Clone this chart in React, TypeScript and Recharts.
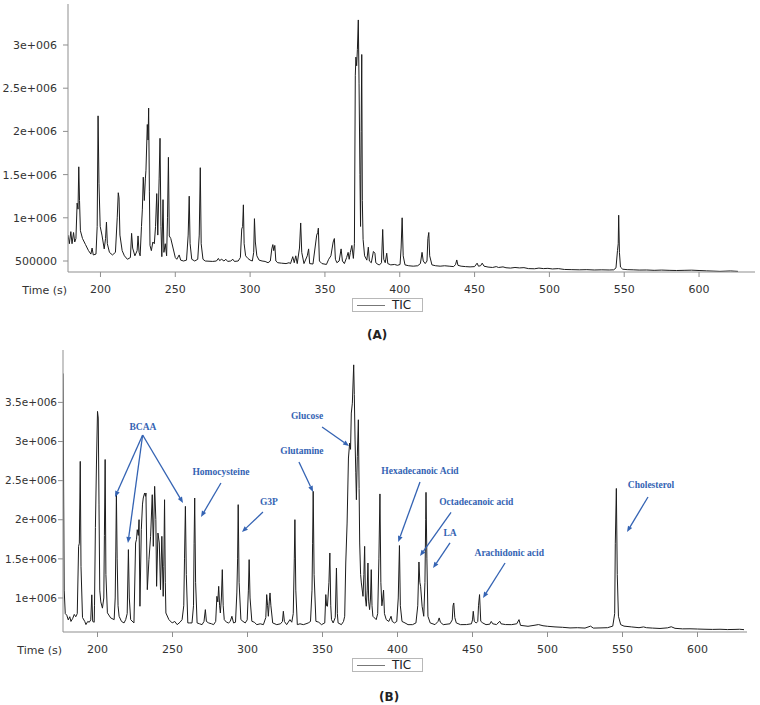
import React from 'react';
import {
  LineChart,
  Line,
  XAxis,
  YAxis,
  Legend,
  ReferenceLine,
  ReferenceDot,
  Label,
} from 'recharts';

// Chromatogram (A): retention time (s) and TIC in thousands of counts
const timeA = [
  178.3, 179.2, 180.2, 181.0, 182.0, 182.8, 183.6, 184.4, 185.0, 185.5, 186.0, 186.6, 188, 190, 192, 193.6, 194.4, 195.2,
  197.0, 197.8, 198.4, 199.0, 199.8, 201, 202.5, 203.4, 204.0, 204.6, 206, 208, 210, 211.2, 211.9, 212.4, 213, 214.5,
  216, 218, 220, 220.8, 221.5, 223, 224.5, 225.1, 225.8, 226.5, 227.4, 228.0, 228.6, 229.3, 230.0, 230.4, 231.3, 231.8,
  232.2, 232.7, 233.1, 234, 235, 236, 236.8, 237.6, 238.3, 239.2, 239.8, 240.4, 241.0, 241.8, 242.4, 243.3, 244.2, 244.8,
  245.4, 246.0, 247.0, 248.5, 250.0, 251.0, 252.6, 253.6, 255.5, 257.5, 258.6, 259.3, 259.9, 261, 263, 265, 266.0, 266.7,
  267.3, 268.5, 270, 275, 277.5, 278.8, 279.6, 281, 282.5, 283.8, 285, 287, 288.5, 289.5, 292, 293.5, 294.4, 295.0, 295.5,
  296.0, 297, 298.5, 300, 301.5, 302.4, 302.9, 303.5, 304.5, 306, 308, 310, 312, 313.5, 314.5, 315.2, 315.8, 316.5, 317.2,
  318.5, 321, 324, 326, 327, 328.5, 329.5, 330.5, 331.5, 333.0, 333.8, 334.5, 336, 338.2, 339.1, 339.8, 342, 344.5, 345.2,
  345.6, 346.3, 348, 351, 352.5, 354, 355.5, 356.3, 357.0, 358, 359.5, 360.8, 361.7, 363, 364.5, 365.5, 366.2, 367, 368,
  369, 369.7, 370.3, 370.7, 371.2, 371.7, 372.3, 372.8, 373.4, 373.8, 374.2, 374.6, 375.0, 375.5, 376.5, 378, 379.0, 379.7,
  381, 382.4, 383.4, 384.0, 385.5, 386.5, 387.8, 388.6, 389.3, 390.3, 391.3, 392.0, 394, 396.5, 398.5, 400.2, 400.9, 401.6,
  402.3, 403.5, 406, 409, 412, 413.8, 414.9, 415.7, 417, 418.2, 418.8, 419.4, 420.0, 421.5, 424, 427, 430, 433, 436, 437.3,
  438.1, 438.9, 441, 444, 447, 450, 451.7, 452.6, 454, 455.1, 456.3, 459, 462, 464.5, 466, 469, 471, 474, 477, 480, 483,
  486, 490, 493, 496, 499, 502, 506, 510, 515, 520, 525, 530, 535, 540, 543, 544.5, 545.5, 546.0, 546.3, 546.8, 547.5, 549,
  552, 556, 560, 565, 570, 575, 580, 585, 590, 595, 600, 605, 610, 614, 618, 621, 624, 626,
];
const ticA = [
  800, 700, 840, 700, 830, 720, 760, 1170, 1100, 1590, 1200, 850, 760, 690, 620, 580, 650, 570,
  580, 900, 2180, 1400, 900, 800, 640, 760, 950, 700, 600, 570, 600, 1000, 1290, 1230, 800, 620,
  560, 520, 540, 820, 650, 560, 620, 790, 600, 560, 900, 1100, 1470, 1200, 1450, 1550, 2080, 1900,
  2270, 1300, 680, 620, 720, 700, 900, 1280, 800, 1450, 1920, 900, 550, 1210, 600, 700, 560, 1000,
  1700, 790, 760, 650, 540, 520, 570, 510, 500, 510, 800, 1250, 700, 520, 500, 520, 800, 1580,
  700, 520, 500, 495, 500, 530, 505, 520, 500, 520, 495, 500, 520, 495, 500, 540, 870, 900, 1150,
  700, 560, 530, 510, 500, 600, 990, 720, 560, 510, 500, 495, 480, 500, 640, 690, 620, 680, 500,
  480, 475, 470, 480, 470, 550, 480, 560, 470, 650, 940, 600, 470, 560, 640, 470, 465, 800, 830,
  880, 500, 470, 460, 520, 560, 720, 760, 520, 480, 500, 640, 500, 470, 540, 600, 520, 600, 680,
  530, 700, 2650, 2860, 2760, 2950, 3290, 2550, 1500, 900, 2000, 2890, 1200, 750, 560, 510, 660, 500,
  480, 610, 590, 480, 460, 455, 480, 865, 520, 480, 590, 470, 455, 460, 450, 460, 650, 1000,
  560, 455, 445, 440, 445, 470, 600, 500, 470, 500, 760, 830, 560, 455, 445, 440, 445, 440, 435, 460,
  512, 450, 440, 435, 432, 435, 475, 440, 445, 475, 440, 430, 425, 435, 425, 432, 422, 418, 425, 420, 423,
  412, 410, 418, 412, 415, 408, 412, 402, 400, 398, 400, 396, 398, 396, 398, 420, 620, 700, 1030, 600, 430, 405,
  400, 398, 395, 396, 392, 395, 392, 390, 392, 394, 390, 386, 383, 380, 383, 385, 382, 380,
];

// Chromatogram (B)
const timeB = [
  177.0, 177.8, 178.5, 179.5, 180.5, 181.5, 182.3, 183.5, 184.5, 185.5, 186.5, 187.4, 187.9, 188.5, 189.0, 190, 191.5,
  192.3, 193.5, 194.5, 195.5, 196.2, 196.8, 197.8, 198.0, 198.6, 199.3, 200.0, 200.5, 201.0, 201.5, 202.2, 203.3, 204.2,
  204.6, 205.1, 205.6, 206.6, 208.8, 211.1, 211.8, 212.2, 212.6, 213.1, 213.7, 214.4, 216, 217.7, 218.8, 219.8, 220.6,
  221.2, 222.1, 224.3, 225.4, 226.0, 226.5, 227.2, 227.7, 228.3, 229.2, 230.0, 230.5, 231.4, 232.0, 232.3, 233.2, 234.3,
  235.4, 236.5, 237.2, 238.1, 238.9, 239.4, 240.3, 241.2, 242.0, 242.9, 243.8, 244.2, 244.7, 245.2, 245.6, 247.6, 249.8,
  251.5, 253.1, 255, 256.4, 257.5, 258.0, 258.6, 259.2, 260.2, 261.5, 263.0, 264.0, 264.4, 264.8, 265.4, 266.4, 268,
  269.7, 271.0, 271.9, 272.6, 274.1, 276, 277.4, 278.8, 279.6, 280.2, 280.8, 281.4, 281.9, 282.6, 283.2, 283.8, 284.5,
  286, 287.4, 288.5, 289.6, 290.7, 292, 292.9, 293.4, 293.8, 294.4, 295.6, 297, 298.5, 299.8, 300.6, 301.1, 301.7, 302.9,
  304.5, 306.2, 308.5, 310.6, 312.2, 312.8, 313.4, 313.9, 314.5, 315.0, 315.6, 316.8, 319.5, 322, 323.3, 323.9, 324.6,
  326.1, 328.3, 329.5, 330.5, 331.2, 331.6, 332.2, 333.2, 335, 337.2, 339, 340.5, 342, 343.0, 343.4, 343.8, 344.4, 345.6,
  347.5, 349.3, 351.5, 352.2, 352.7, 353.3, 354.3, 354.9, 355.5, 356.0, 357.1, 358.5, 359.3, 359.9, 360.4, 362.6, 364.0,
  364.8, 365.5, 366.4, 367.3, 368.1, 368.7, 369.2, 369.9, 370.8, 371.2, 371.7, 372.2, 372.6, 373.2, 373.9, 374.4, 374.8,
  375.4, 375.9, 377, 377.6, 378.1, 378.6, 379.2, 379.8, 380.3, 380.8, 381.4, 382.0, 382.5, 383.0, 383.6, 385.8, 386.8,
  387.6, 388.3, 388.9, 389.6, 390.2, 390.7, 391.3, 392.5, 394.2, 395.7, 396.5, 398, 399.5, 400.5, 401.3, 401.9, 403, 405,
  407, 410, 412.3, 413.5, 414.3, 414.9, 415.4, 416.4, 417.5, 418.3, 418.8, 419.0, 419.6, 420.3, 421.8, 425, 427.0, 427.8,
  428.6, 430.5, 433.0, 435.0, 436.5, 437.0, 437.5, 438.2, 439.2, 442, 446, 449.3, 450.0, 450.5, 451.2, 452.5, 453.5,
  454.0, 454.7, 455.5, 456.9, 459, 461.5, 462.5, 463.5, 466, 468.2, 469, 472, 476, 479.5, 481.0, 482.0, 487, 491, 494,
  497, 500, 505, 510, 515, 520, 525, 528.7, 530.5, 535, 540, 543.5, 544.8, 545.2, 545.9, 546.5, 547.3, 548.8, 551, 556,
  561, 564, 566, 570, 575, 580, 582.5, 585, 590, 595, 600, 605, 610, 615, 620, 625, 628, 631,
];
const ticB = [
  3870, 1100, 800, 780, 720, 760, 700, 740, 790, 760, 800, 1660, 1700, 2746, 1400, 750, 700,
  660, 700, 690, 720, 1040, 700, 690, 900, 1900, 2700, 3385, 3300, 2200, 1100, 950, 870, 1000,
  1800, 2770, 1300, 810, 745, 723, 1000, 1600, 2342, 1500, 900, 766, 700, 681, 723, 800, 1618,
  1000, 723, 681, 1703, 1750, 1873, 1800, 2001, 894, 1873, 2200, 2278, 2342, 2300, 2342, 1106, 1490,
  1788, 2320, 1660, 2427, 2001, 1149, 1830, 1703, 1106, 1788, 1021, 1400, 2256, 1200, 808, 723, 681,
  700, 659, 690, 723, 900, 1500, 2171, 1300, 681, 681, 681, 900, 1700, 2278, 1200, 681, 670,
  659, 700, 851, 700, 681, 670, 659, 700, 1021, 950, 1149, 900, 808, 1000, 1362, 900, 723,
  690, 681, 700, 766, 681, 690, 1064, 1500, 2193, 1200, 723, 700, 681, 720, 1100, 1490, 1000, 702,
  690, 659, 670, 659, 750, 1043, 900, 766, 950, 1064, 900, 681, 659, 670, 700, 830, 700,
  659, 723, 690, 800, 1500, 2001, 1100, 659, 670, 659, 670, 681, 700, 1100, 1700, 2363, 1300, 702,
  690, 659, 681, 1043, 900, 894, 1200, 1575, 900, 723, 681, 750, 1383, 800, 681, 659, 700,
  766, 1447, 1958, 2789, 2980, 2900, 3364, 3490, 3980, 3600, 3020, 2600, 2256, 2810, 3278, 2400, 1703,
  1300, 1192, 1021, 1300, 1660, 1000, 894, 1100, 1447, 950, 851, 1000, 1362, 900, 766, 723, 800,
  1500, 2330, 1200, 900, 1000, 1100, 800, 723, 700, 766, 700, 681, 700, 1000, 1670, 900, 700, 681,
  659, 659, 681, 900, 1460, 1200, 1150, 894, 766, 1200, 2000, 2350, 1500, 766, 681, 659, 700, 745,
  690, 659, 665, 670, 720, 900, 936, 750, 681, 659, 660, 670, 720, 830, 700, 680, 700,
  900, 1043, 702, 680, 659, 665, 700, 670, 660, 702, 670, 660, 659, 670, 723, 650, 638, 650, 660,
  645, 638, 630, 625, 617, 620, 615, 640, 615, 617, 620, 640, 800, 1700, 2400, 1300, 766, 659, 640, 630,
  620, 630, 620, 615, 610, 618, 632, 612, 605, 606, 603, 600, 598, 600, 596, 598, 600, 595,
];

const timeTicks = [200, 250, 300, 350, 400, 450, 500, 550, 600];
const ticTicksA = [500000, 1000000, 1500000, 2000000, 2500000, 3000000];
const ticTicksB = [1000000, 1500000, 2000000, 2500000, 3000000, 3500000];

// Compound labels in (B), anchored in data units (time, kcounts)
const compoundNames = [
  'BCAA', 'Homocysteine', 'G3P', 'Glutamine', 'Glucose',
  'Hexadecanoic Acid', 'Octadecanoic acid', 'LA', 'Arachidonic acid', 'Cholesterol',
];
const compoundTime = [230.3, 282.3, 314.3, 336.3, 339.7, 415, 452.5, 435, 474.5, 569];
const compoundTic = [3186, 2610, 2227, 2879, 3326, 2623, 2231, 1827, 1571, 2444];

// Arrows from label to peak
const arrowFromTime = [230.1, 230.1, 230.1, 282.3, 310.3, 334.3, 349.7, 415, 435.7, 435, 471.7, 567];
const arrowFromTic = [3083, 3083, 3083, 2470, 2099, 2738, 3186, 2483, 2095, 1703, 1447, 2291];
const arrowToTime = [211.7, 220.3, 257, 269, 296.3, 343.7, 367.7, 400.5, 415, 423.7, 457, 553];
const arrowToTic = [2291, 1703, 2214, 2035, 1843, 2355, 2943, 1716, 1537, 1383, 1000, 1843];

const dataA = timeA.map((t, i) => ({ t, tic: ticA[i] * 1000 }));
const dataB = timeB.map((t, i) => ({ t, tic: ticB[i] * 1000 }));

const AXIS = '#8f8f8f';
const TEXT = '#333';
const BLUE = '#3463b3';
const FONT = 'DejaVu Sans';

const fmtTic = (v: number) => (v < 1000000 ? String(v) : `${v / 1000000}e+006`);

function TicLegend() {
  return (
    <div
      style={{
        boxSizing: 'border-box',
        width: 71,
        height: 14,
        border: '1px solid #b8b8b8',
        background: '#fff',
        display: 'flex',
        alignItems: 'center',
      }}
    >
      <span style={{ display: 'inline-block', width: 28, borderTop: '1.5px solid #777', marginLeft: 4 }} />
      <span style={{ marginLeft: 7, fontSize: 12, fontFamily: FONT, color: '#222', lineHeight: '12px' }}>TIC</span>
    </div>
  );
}

function Arrow(props: any) {
  const { x1, y1, x2, y2 } = props;
  const dx = x2 - x1;
  const dy = y2 - y1;
  const len = Math.hypot(dx, dy) || 1;
  const ux = dx / len;
  const uy = dy / len;
  const head = 6;
  const w = 2.4;
  const bx = x2 - ux * head;
  const by = y2 - uy * head;
  return (
    <g>
      <line x1={x1} y1={y1} x2={bx} y2={by} stroke={BLUE} strokeWidth={1.3} />
      <polygon
        points={`${x2},${y2} ${bx - uy * w},${by + ux * w} ${bx + uy * w},${by - ux * w}`}
        fill={BLUE}
      />
    </g>
  );
}

const timeLabel = (props: any) => {
  const vb = props.viewBox;
  return (
    <text x={vb.x - 1} y={vb.y + 18} textAnchor="end" dominantBaseline="central" fontSize={11} fontFamily={FONT} fill={TEXT}>
      Time (s)
    </text>
  );
};

function Chromatogram({
  data,
  height,
  margin,
  xDomain,
  yDomain,
  yTicks,
  yWidth,
  yFontSize,
  yTickMargin,
  children,
}: {
  data: { t: number; tic: number }[];
  height: number;
  margin: { top: number; right: number; bottom: number; left: number };
  xDomain: [number, number];
  yDomain: [number, number];
  yTicks: number[];
  yWidth: number;
  yFontSize: number;
  yTickMargin: number;
  children?: React.ReactNode;
}) {
  const tickStyle = { fill: TEXT, fontSize: 11, fontFamily: FONT };
  return (
    <LineChart width={760} height={height} data={data} margin={margin}>
      <XAxis
        type="number"
        dataKey="t"
        domain={xDomain}
        ticks={timeTicks}
        allowDataOverflow
        height={26}
        tickSize={5}
        tickMargin={8}
        stroke={AXIS}
        tick={tickStyle}
      >
        <Label content={timeLabel} />
      </XAxis>
      <YAxis
        type="number"
        domain={yDomain}
        ticks={yTicks}
        allowDataOverflow
        width={yWidth}
        tickSize={5}
        tickMargin={yTickMargin}
        stroke={AXIS}
        tick={{ ...tickStyle, fontSize: yFontSize }}
        tickFormatter={fmtTic}
      />
      <Legend
        verticalAlign="bottom"
        content={<TicLegend />}
        wrapperStyle={{ left: 352, width: 71, bottom: 0 }}
      />
      <Line
        type="linear"
        dataKey="tic"
        name="TIC"
        stroke="#1c1c1c"
        strokeWidth={1}
        dot={false}
        isAnimationActive={false}
      />
      {children}
    </LineChart>
  );
}

export default function App() {
  return (
    <div style={{ position: 'absolute', left: 0, top: 0, width: 760, height: 705, background: '#fff', fontFamily: FONT }}>
      <div style={{ position: 'absolute', left: 0, top: 0 }}>
        <Chromatogram
          data={dataA}
          height={312}
          margin={{ top: 4, right: 5, bottom: 0, left: 0 }}
          xDomain={[178.3, 637.4]}
          yDomain={[372700, 3474500]}
          yTicks={ticTicksA}
          yWidth={68}
          yFontSize={11}
          yTickMargin={6}
        />
      </div>
      <div style={{ position: 'absolute', left: 367, top: 328, fontSize: 12, fontWeight: 'bold', color: '#222' }}>(A)</div>

      <div style={{ position: 'absolute', left: 0, top: 340 }}>
        <Chromatogram
          data={dataB}
          height={332}
          margin={{ top: 10, right: 13, bottom: 0, left: 0 }}
          xDomain={[177, 633]}
          yDomain={[565000, 4170000]}
          yTicks={ticTicksB}
          yWidth={63}
          yFontSize={10.5}
          yTickMargin={1}
        >
          {arrowFromTime.map((t, i) => (
            <ReferenceLine
              key={`arrow-${i}`}
              segment={[
                { x: t, y: arrowFromTic[i] * 1000 },
                { x: arrowToTime[i], y: arrowToTic[i] * 1000 },
              ]}
              shape={Arrow}
            />
          ))}
          {compoundNames.map((name, i) => (
            <ReferenceDot
              key={name}
              x={compoundTime[i]}
              y={compoundTic[i] * 1000}
              r={0}
              shape={(p: any) => (
                <text
                  x={p.cx}
                  y={p.cy}
                  textAnchor="middle"
                  dominantBaseline="central"
                  fontSize={9.5}
                  fontWeight="bold"
                  fontFamily="Liberation Serif"
                  fill={BLUE}
                >
                  {name}
                </text>
              )}
            />
          ))}
        </Chromatogram>
      </div>
      <div style={{ position: 'absolute', left: 379, top: 690, fontSize: 12, fontWeight: 'bold', color: '#222' }}>(B)</div>
    </div>
  );
}
